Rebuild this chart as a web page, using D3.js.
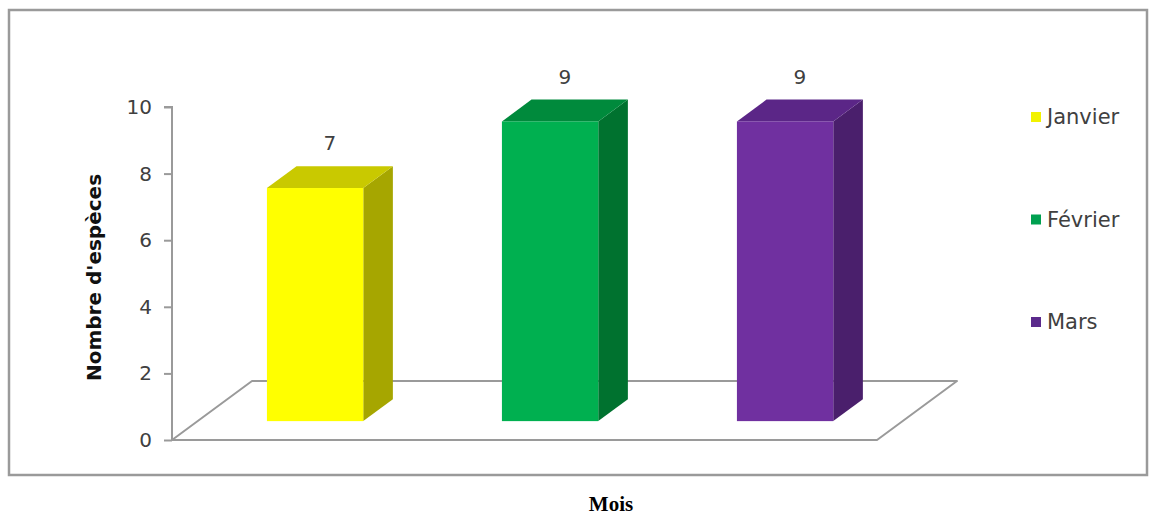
<!DOCTYPE html>
<html>
<head>
<meta charset="utf-8">
<script src="https://cdn.jsdelivr.net/npm/d3@7"></script>
<style>
  html, body { margin: 0; padding: 0; background: #fff; }
  svg { display: block; }
</style>
</head>
<body>
<svg id="chart" width="1159" height="517"></svg>
<script>
// Species counts per month
const months = ["Janvier", "Février", "Mars"];
const speciesCount = [7, 9, 9];
const yTicks = [0, 2, 4, 6, 8, 10];

const frontColors = ["#FFFF00", "#00B050", "#7030A0"];
const sideColors  = ["#A6A600", "#00722F", "#4A1F6C"];
const topColors   = ["#C9C900", "#008A3C", "#5B2687"];
const legendColors = ["#F2F200", "#00A050", "#5B2A8C"];

const svg = d3.select("#chart");

// Outer frame
svg.append("rect")
  .attr("x", 9).attr("y", 10).attr("width", 1138).attr("height", 465)
  .attr("fill", "#fff").attr("stroke", "#9a9a9a").attr("stroke-width", 2.5);

// Plot geometry: front-left corner of the floor sits on the value axis
const x0 = 172, x1 = 877;
const y = d3.scaleLinear().domain([0, 10]).range([440, 107]);
const x = d3.scaleBand().domain(months).range([x0, x1]).paddingInner(0.59).paddingOuter(0.295);
// Oblique depth: fraction of floor depth -> screen offset
const depthX = d3.scaleLinear().domain([0, 1]).range([0, 80]);
const depthY = d3.scaleLinear().domain([0, 1]).range([0, -59]);
const barDepth0 = 0.32, barDepth1 = 0.69;

const floorY = y(0);

// Floor parallelogram
const floor = [
  [x0, floorY],
  [x1, floorY],
  [x1 + depthX(1), floorY + depthY(1)],
  [x0 + depthX(1), floorY + depthY(1)]
];
svg.append("path")
  .attr("d", "M" + floor.map(p => p.join(",")).join("L") + "Z")
  .attr("fill", "none").attr("stroke", "#9a9a9a").attr("stroke-width", 2)
  .attr("stroke-linejoin", "round");

// Value axis
const axis = d3.axisLeft(y).tickValues(yTicks).tickSize(8).tickPadding(12);
const axisG = svg.append("g").attr("transform", `translate(${x0},0)`).call(axis);
axisG.select(".domain").attr("stroke", "#9a9a9a").attr("stroke-width", 2).attr("d", `M-8,${y(10)}H0V${y(0)}`);
axisG.selectAll(".tick line").attr("stroke", "#9a9a9a").attr("stroke-width", 2);
axisG.selectAll(".tick text")
  .attr("fill", "#404040")
  .style("font-family", "'DejaVu Sans', sans-serif")
  .style("font-size", "20px");

// Axis title
svg.append("text")
  .attr("transform", `translate(101,${(y(0) + y(10)) / 2 + 4}) rotate(-90)`)
  .attr("text-anchor", "middle")
  .style("font-family", "'DejaVu Sans', sans-serif")
  .style("font-weight", "bold")
  .style("font-size", "20px")
  .attr("fill", "#111")
  .text("Nombre d'espèces");

// 3D bars
const bars = svg.append("g");
months.forEach((m, i) => {
  const v = speciesCount[i];
  const fx0 = x(m) + depthX(barDepth0);
  const fx1 = fx0 + x.bandwidth();
  const fyB = y(0) + depthY(barDepth0);
  const fyT = y(v) + depthY(barDepth0);
  const dx = depthX(barDepth1) - depthX(barDepth0);
  const dy = depthY(barDepth1) - depthY(barDepth0);
  const g = bars.append("g");
  // right side
  g.append("path")
    .attr("d", `M${fx1},${fyB}L${fx1 + dx},${fyB + dy}L${fx1 + dx},${fyT + dy}L${fx1},${fyT}Z`)
    .attr("fill", sideColors[i]);
  // top
  g.append("path")
    .attr("d", `M${fx0},${fyT}L${fx0 + dx},${fyT + dy}L${fx1 + dx},${fyT + dy}L${fx1},${fyT}Z`)
    .attr("fill", topColors[i]);
  // front
  g.append("rect")
    .attr("x", fx0).attr("y", fyT).attr("width", x.bandwidth()).attr("height", fyB - fyT)
    .attr("fill", frontColors[i]);
  // value label
  g.append("text")
    .attr("x", fx0 + x.bandwidth() / 2 + dx / 2)
    .attr("y", fyT + dy - 16)
    .attr("text-anchor", "middle")
    .style("font-family", "'DejaVu Sans', sans-serif")
    .style("font-size", "20px")
    .attr("fill", "#404040")
    .text(v);
});

// Legend
const legend = svg.append("g");
const legendY = d3.scalePoint().domain(months).range([117, 322]);
months.forEach((m, i) => {
  const ly = legendY(m);
  legend.append("rect")
    .attr("x", 1031).attr("y", ly - 5).attr("width", 10).attr("height", 10)
    .attr("fill", legendColors[i]);
  legend.append("text")
    .attr("x", 1047).attr("y", ly + 7)
    .style("font-family", "'DejaVu Sans', sans-serif")
    .style("font-size", "21px")
    .attr("fill", "#404040")
    .text(m);
});

// Category axis title
svg.append("text")
  .attr("x", 611).attr("y", 511)
  .attr("text-anchor", "middle")
  .style("font-family", "'Liberation Serif', 'Times New Roman', serif")
  .style("font-weight", "bold")
  .style("font-size", "21px")
  .attr("fill", "#000")
  .text("Mois");
</script>
</body>
</html>
